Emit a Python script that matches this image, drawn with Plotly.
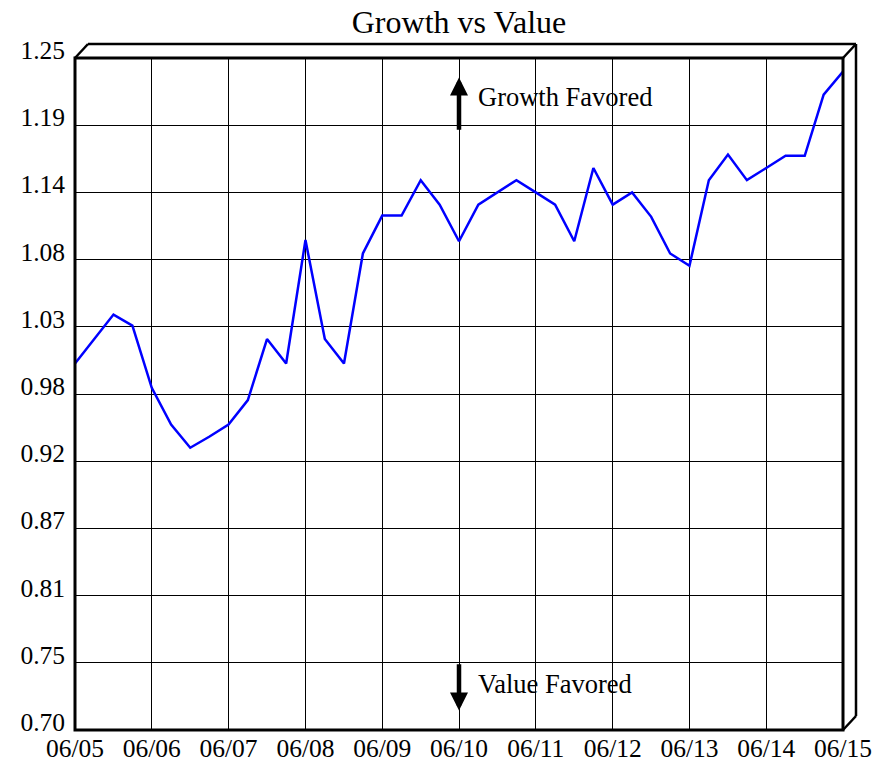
import numpy as np
import plotly.graph_objects as go

# quarterly readings, June 2005 .. June 2015
dates = [
    "2005-06-01", "2005-09-01", "2005-12-01", "2006-03-01",
    "2006-06-01", "2006-09-01", "2006-12-01", "2007-03-01",
    "2007-06-01", "2007-09-01", "2007-12-01", "2008-03-01",
    "2008-06-01", "2008-09-01", "2008-12-01", "2009-03-01",
    "2009-06-01", "2009-09-01", "2009-12-01", "2010-03-01",
    "2010-06-01", "2010-09-01", "2010-12-01", "2011-03-01",
    "2011-06-01", "2011-09-01", "2011-12-01", "2012-03-01",
    "2012-06-01", "2012-09-01", "2012-12-01", "2013-03-01",
    "2013-06-01", "2013-09-01", "2013-12-01", "2014-03-01",
    "2014-06-01", "2014-09-01", "2014-12-01", "2015-03-01",
    "2015-06-01",
]
ratio = [
    1.000, 1.020, 1.040, 1.031,
    0.980, 0.950, 0.931, 0.940,
    0.950, 0.970, 1.020, 1.000,
    1.101, 1.020, 1.000, 1.090,
    1.121, 1.121, 1.150, 1.130,
    1.100, 1.130, 1.140, 1.150,
    1.140, 1.130, 1.100, 1.160,
    1.130, 1.140, 1.120, 1.090,
    1.080, 1.150, 1.171, 1.150,
    1.160, 1.170, 1.170, 1.220,
    1.239,
]

y_tick_labels = ["0.70", "0.75", "0.81", "0.87", "0.92", "0.98",
                 "1.03", "1.08", "1.14", "1.19", "1.25"]
y_min, y_max = 0.70, 1.25
y_ticks = np.linspace(y_min, y_max, len(y_tick_labels))

FONT = "Liberation Serif, Times New Roman, serif"

fig = go.Figure()
fig.add_trace(go.Scatter(
    x=dates, y=ratio, mode="lines",
    line=dict(color="#0000ff", width=2.5),
    showlegend=False,
))

W, H = 894, 766
m = dict(l=75, r=51, t=58, b=36)
pw = W - m["l"] - m["r"]
ph = H - m["t"] - m["b"]
dx, dy = 13 / pw, 14 / ph

# --- fake 3D box around the plot area ---
def seg(x0, y0, x1, y1, w=2.5):
    return dict(type="line", xref="paper", yref="paper",
                x0=x0, y0=y0, x1=x1, y1=y1,
                line=dict(color="black", width=w), layer="above")

shapes = [
    dict(type="rect", xref="paper", yref="paper", x0=0, y0=0, x1=1, y1=1,
         line=dict(color="black", width=3), layer="above"),
    seg(0, 1, dx, 1 + dy),
    seg(1, 1, 1 + dx, 1 + dy),
    seg(1, 0, 1 + dx, dy),
    seg(dx, 1 + dy, 1 + dx, 1 + dy),
    seg(1 + dx, 1 + dy, 1 + dx, dy),
]

mid = "2010-06-01"
annotations = [
    dict(x=mid, y=1.234, ax=mid, ay=1.19, xref="x", yref="y",
         axref="x", ayref="y", text="", showarrow=True,
         arrowhead=2, arrowsize=0.8, arrowwidth=4.5, arrowcolor="black"),
    dict(x=mid, y=0.716, ax=mid, ay=0.755, xref="x", yref="y",
         axref="x", ayref="y", text="", showarrow=True,
         arrowhead=2, arrowsize=0.8, arrowwidth=4.5, arrowcolor="black"),
    dict(x=mid, y=1.218, xref="x", yref="y", xanchor="left", xshift=17,
         text="Growth Favored", showarrow=False,
         font=dict(family=FONT, size=26.5, color="black")),
    dict(x=mid, y=0.738, xref="x", yref="y", xanchor="left", xshift=17,
         text="Value Favored", showarrow=False,
         font=dict(family=FONT, size=26.5, color="black")),
]

fig.update_layout(
    width=W, height=H,
    margin=m,
    paper_bgcolor="white", plot_bgcolor="white",
    font=dict(family=FONT, size=25.5, color="black"),
    title=dict(text="Growth vs Value", x=0.5, xref="paper",
               y=1 - 22 / H, yanchor="middle",
               font=dict(family=FONT, size=32, color="black")),
    shapes=shapes,
    annotations=annotations,
    xaxis=dict(
        type="date", range=["2005-06-01", "2015-06-01"],
        tick0="2005-06-01", dtick="M12", tickformat="%m/%y",
        showgrid=True, gridcolor="black", gridwidth=1,
        zeroline=False, showline=False, ticks="", automargin=False,
    ),
    yaxis=dict(
        range=[y_min, y_max], tickvals=y_ticks, ticktext=y_tick_labels,
        showgrid=True, gridcolor="black", gridwidth=1,
        zeroline=False, showline=False, ticks="", automargin=False,
        ticklabelshift=-8, ticklabelstandoff=9,
    ),
)

# drop the browser's default 8px body margin so the figure fills the window
fig.write_html("out.html", config={"displayModeBar": False},
               post_script="document.body.style.margin = '0';")
